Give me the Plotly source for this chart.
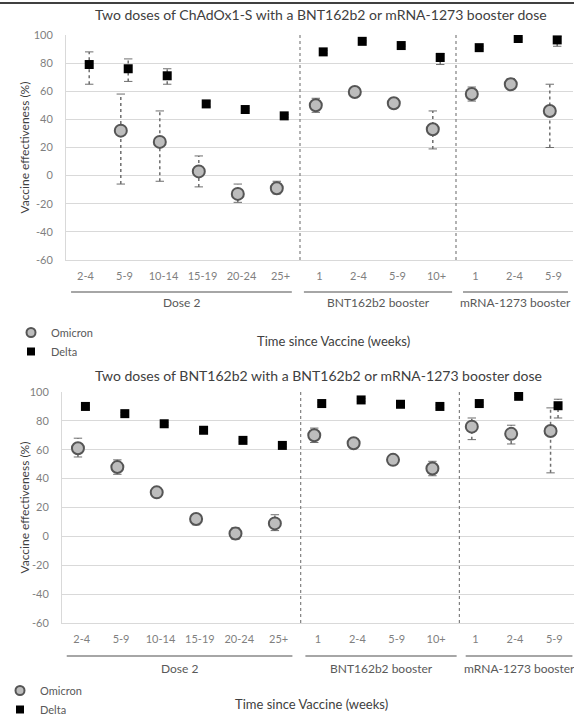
import plotly.graph_objects as go

# Time-since-vaccination categories shared by both panels
categories = ["2-4", "5-9", "10-14", "15-19", "20-24", "25+",
              "1", "2-4", "5-9", "10+",
              "1", "2-4", "5-9"]
group_names = ["Dose 2", "BNT162b2 booster", "mRNA-1273 booster"]
y_ticks = [-60, -40, -20, 0, 20, 40, 60, 80, 100]
y_tick_labels = ["-60", "-40", "-20", "0", "20", "40", "60", "80", "100"]

# Panel 1: two doses of ChAdOx1-S
chad_omicron = [None, 32, 24, 3, -13, -9, 50, 59.5, 51.5, 33, 58, 65, 46]
chad_omicron_lo = [None, -6, -4, -8, -19, -13, 45, 58, 48, 19, 53, 62, 20]
chad_omicron_hi = [None, 58, 46, 14, -6, -4, 55, 61, 55, 46, 63, 69, 65]
chad_delta = [79, 76, 71, 51, 47, 42.5, 88, 95.5, 92.5, 84, 91, 97.5, 96.5]
chad_delta_lo = [65, 67, 65, 49, 46, 41.5, 87, 95, 92, 79, 90, 97, 92]
chad_delta_hi = [88, 83, 76, 53, 48, 43.5, 89, 96, 93, 87, 92, 98, 99]

# Panel 2: two doses of BNT162b2
bnt_omicron = [61, 48, 30.5, 12, 2, 9, 70, 64.5, 53, 47, 76, 71, 73]
bnt_omicron_lo = [55, 43, 28, 8, -2, 4, 65, 63, 51, 42, 67, 64, 44]
bnt_omicron_hi = [68, 53, 33, 15, 6, 15, 75, 66, 55, 52, 82, 77, 89]
bnt_delta = [90, 85, 78, 73.5, 66.5, 63, 92, 94.5, 91.5, 90, 92, 97, 90.5]
bnt_delta_lo = [89, 84, 77, 72.5, 65.5, 62, 91, 93.5, 90.5, 89, 91, 96, 82]
bnt_delta_hi = [91, 86, 79, 74.5, 67.5, 64, 93, 95.5, 92.5, 91, 93, 98, 95]

W, H = 574, 715
FONT = "Lato"


def px(x):
    return x / W


def py(y):
    return 1 - y / H


OFFSET = 0.095
positions = list(range(len(categories)))

fig = go.Figure()


def add_whiskers(xs, vals, lo, hi, xaxis, yaxis):
    # dotted confidence-interval whiskers with short caps
    ex, ey, cx, cy = [], [], [], []
    for x, v, a, b in zip(xs, vals, lo, hi):
        if v is None:
            continue
        ex += [x, x, None]
        ey += [a, b, None]
        cx += [x, x]
        cy += [a, b]
    fig.add_trace(go.Scatter(x=ex, y=ey, mode="lines", xaxis=xaxis, yaxis=yaxis,
                             line=dict(color="#6e6e6e", width=1.5, dash="dot"),
                             showlegend=False, hoverinfo="skip"))
    fig.add_trace(go.Scatter(x=cx, y=cy, mode="markers", xaxis=xaxis, yaxis=yaxis,
                             marker=dict(symbol="line-ew", size=6,
                                         line=dict(color="#6e6e6e", width=1)),
                             showlegend=False, hoverinfo="skip"))


omicron_marker = dict(symbol="circle", size=12, color="#bdbdbd",
                      line=dict(color="#555555", width=2))
delta_marker = dict(symbol="square", size=9, color="#000000",
                    line=dict(color="#000000", width=0))
omicron_key = dict(symbol="circle", size=9, color="#bdbdbd",
                   line=dict(color="#555555", width=2))
delta_key = dict(symbol="square", size=8, color="#000000",
                 line=dict(color="#000000", width=0))

panels = [
    ("x", "y", "legend", chad_omicron, chad_omicron_lo, chad_omicron_hi,
     chad_delta, chad_delta_lo, chad_delta_hi),
    ("x2", "y2", "legend2", bnt_omicron, bnt_omicron_lo, bnt_omicron_hi,
     bnt_delta, bnt_delta_lo, bnt_delta_hi),
]
for xa, ya, lg, om, oml, omh, de, del_, deh in panels:
    xo = [p - OFFSET for p in positions]
    xd = [p + OFFSET for p in positions]
    add_whiskers(xo, om, oml, omh, xa, ya)
    add_whiskers(xd, de, del_, deh, xa, ya)
    fig.add_trace(go.Scatter(x=xo, y=om, mode="markers", name="Omicron",
                             xaxis=xa, yaxis=ya, marker=omicron_marker,
                             showlegend=False))
    fig.add_trace(go.Scatter(x=xd, y=de, mode="markers", name="Delta",
                             xaxis=xa, yaxis=ya, marker=delta_marker,
                             showlegend=False))
    # legend keys (smaller symbols than the plotted points)
    fig.add_trace(go.Scatter(x=[None], y=[None], mode="markers", name="Omicron",
                             xaxis=xa, yaxis=ya, marker=omicron_key, legend=lg))
    fig.add_trace(go.Scatter(x=[None], y=[None], mode="markers", name="Delta",
                             xaxis=xa, yaxis=ya, marker=delta_key, legend=lg))

# Panel geometry (pixels)
top = dict(left=66, right=573, ytop=35, ybot=260, bracket_y=292,
           group_y=303, xtitle=(333, 341), title_y=15, title_x=321,
           seps=[5.5, 9.5],
           brackets=[(-0.37, 5.29), (5.6, 9.4), (9.68, 12.37)])
bot = dict(left=62, right=574, ytop=392, ybot=623, bracket_y=656,
           group_y=668, xtitle=(311, 704), title_y=375, title_x=318,
           seps=[5.56, 9.59],
           brackets=[(-0.38, 5.35), (5.68, 9.52), (9.75, 12.46)])

axis_common_x = dict(range=[-0.5, 12.5], tickmode="array", tickvals=positions,
                     ticktext=categories, showgrid=False, zeroline=False,
                     showline=True, linecolor="#d9d9d9", linewidth=1, ticks="",
                     tickfont=dict(family=FONT, size=11, color="#7f7f7f"),
                     ticklabelstandoff=6, fixedrange=True)
axis_common_y = dict(range=[-60, 100], tickmode="array", tickvals=y_ticks,
                     ticktext=y_tick_labels, showgrid=True,
                     gridcolor="#d9d9d9", gridwidth=1, zeroline=False,
                     showline=True, linecolor="#d9d9d9", linewidth=1, ticks="",
                     tickfont=dict(family=FONT, size=11, color="#7f7f7f"),
                     ticklabelstandoff=10, fixedrange=True)

titles = ["Two doses of ChAdOx1-S with a BNT162b2 or mRNA-1273 booster dose",
          "Two doses of BNT162b2 with a BNT162b2 or mRNA-1273 booster dose"]

shapes, annotations = [], []
layout_axes = {}
for i, (g, xa, ya) in enumerate([(top, "x", "y"), (bot, "x2", "y2")]):
    sfx = "" if i == 0 else "2"
    layout_axes["xaxis" + sfx] = dict(axis_common_x, domain=[px(g["left"]), px(g["right"])],
                                      anchor=ya)
    layout_axes["yaxis" + sfx] = dict(axis_common_y, domain=[py(g["ybot"]), py(g["ytop"])],
                                      anchor=xa)
    # dotted separators between vaccine groups
    for s in g["seps"]:
        shapes.append(dict(type="line", xref=xa, yref="paper", x0=s, x1=s,
                           y0=py(g["ybot"]), y1=py(g["ytop"]),
                           line=dict(color="#808080", width=1.2, dash="dot")))
    # group brackets and labels
    for (b0, b1), name in zip(g["brackets"], group_names):
        shapes.append(dict(type="line", xref=xa, yref="paper", x0=b0, x1=b1,
                           y0=py(g["bracket_y"]), y1=py(g["bracket_y"]),
                           line=dict(color="#a6a6a6", width=2)))
        annotations.append(dict(text=name, xref=xa, yref="paper", x=(b0 + b1) / 2,
                                y=py(g["group_y"]), xanchor="center", yanchor="middle",
                                showarrow=False,
                                font=dict(family=FONT, size=12, color="#595959")))
    annotations.append(dict(text=titles[i], xref="paper", yref="paper",
                            x=px(g["title_x"]), y=py(g["title_y"]),
                            xanchor="center", yanchor="middle", showarrow=False,
                            font=dict(family=FONT, size=14, color="#404040")))
    annotations.append(dict(text="Time since Vaccine (weeks)", xref="paper", yref="paper",
                            x=px(g["xtitle"][0]), y=py(g["xtitle"][1]),
                            xanchor="center", yanchor="middle", showarrow=False,
                            font=dict(family=FONT, size=13, color="#404040")))
    annotations.append(dict(text="Vaccine effectiveness (%)", xref="paper", yref="paper",
                            x=px(24), y=py((g["ytop"] + g["ybot"]) / 2), textangle=-90,
                            xanchor="center", yanchor="middle", showarrow=False,
                            font=dict(family=FONT, size=12, color="#404040")))

# thin rule along the top edge
shapes.append(dict(type="line", xref="paper", yref="paper", x0=0, x1=1,
                   y0=py(3), y1=py(3), line=dict(color="#000000", width=1.5)))

legend_style = dict(xanchor="left", yanchor="top", bgcolor="rgba(0,0,0,0)",
                    font=dict(family=FONT, size=11, color="#595959"),
                    tracegroupgap=0, itemwidth=30, orientation="v", maxheight=120)

fig.update_layout(
    width=W, height=H,
    margin=dict(l=0, r=0, t=0, b=0, autoexpand=False),
    paper_bgcolor="white", plot_bgcolor="white",
    shapes=shapes, annotations=annotations,
    legend=dict(legend_style, x=px(11), y=py(318)),
    legend2=dict(legend_style, x=px(0), y=py(676)),
    **layout_axes,
)

fig.write_html("out.html")
